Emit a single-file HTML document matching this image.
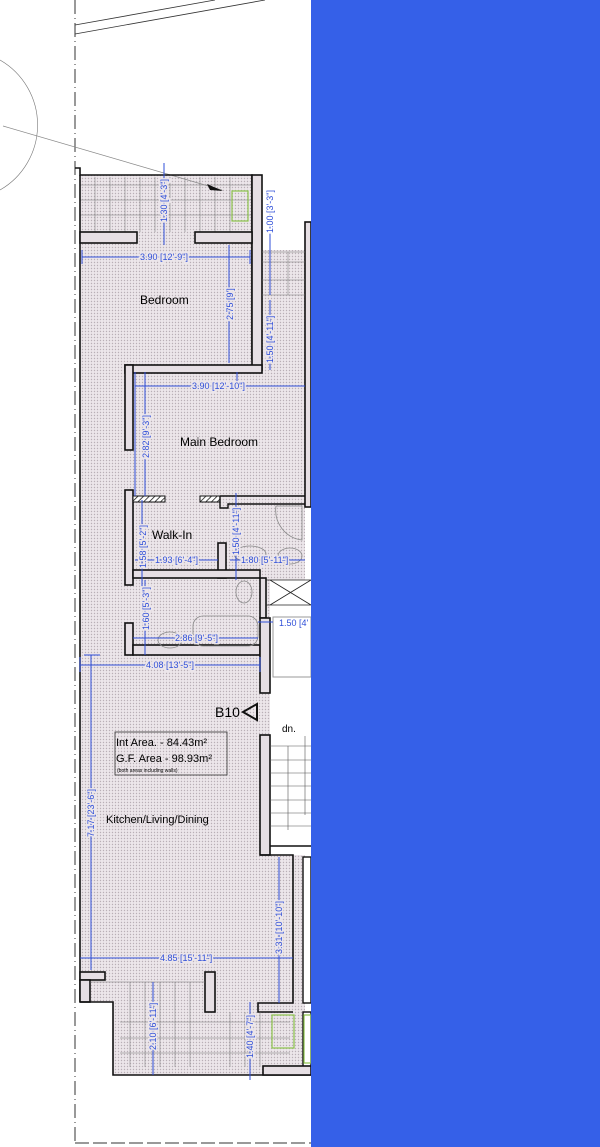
<!DOCTYPE html>
<html><head><meta charset="utf-8"><style>
html,body{margin:0;padding:0;background:#fff;width:600px;height:1147px;overflow:hidden}
svg{display:block}
text{font-family:"Liberation Sans",sans-serif}
.d{fill:#2f4fd8;font-size:9px}
.dl{stroke:#2f4fd8;stroke-width:1;fill:none}
.w{fill:#fff;stroke:#111;stroke-width:1.6}
.wf{fill:#e6dfe4;stroke:#111;stroke-width:1.6}
.g{stroke:#777;stroke-width:.6;fill:none}
</style></head><body>
<svg width="600" height="1147" viewBox="0 0 600 1147" xmlns="http://www.w3.org/2000/svg">
<defs>
<pattern id="dots" width="3" height="3" patternUnits="userSpaceOnUse">
<rect width="3" height="3" fill="#ece6ea"/><circle cx="1.5" cy="1.5" r=".7" fill="#b9afb6"/>
</pattern>
<pattern id="hatch" width="4" height="4" patternUnits="userSpaceOnUse" patternTransform="rotate(45)">
<rect width="4" height="4" fill="#fff"/><line x1="0" y1="0" x2="0" y2="4" stroke="#111" stroke-width="1.5"/>
</pattern>
</defs>
<rect width="600" height="1147" fill="#fff"/>
<line x1="75" y1="25" x2="215" y2="0" stroke="#333" stroke-width=".8"/>
<line x1="75" y1="34" x2="265" y2="0" stroke="#333" stroke-width=".8"/>
<path d="M0 60 A75 75 0 0 1 0 190" class="g" stroke="#999"/>
<line x1="75" y1="0" x2="75" y2="1143" stroke="#333" stroke-width="1" stroke-dasharray="14,4,1,4"/>
<line x1="75" y1="1143" x2="311" y2="1143" stroke="#333" stroke-width="1" stroke-dasharray="14,4"/>
<path d="M80 175 H262 V250 H305 V1075 H113 V1002 H80 Z" fill="url(#dots)"/>
<rect x="268" y="735" width="43" height="120" fill="#fff"/>
<rect x="270" y="580" width="41" height="155" fill="#fff"/>
<g stroke="#777" stroke-width=".5">
<line x1="80" y1="185" x2="252" y2="185"/><line x1="80" y1="200" x2="252" y2="200"/><line x1="80" y1="215" x2="252" y2="215"/>
<line x1="95" y1="177" x2="95" y2="232"/><line x1="110" y1="177" x2="110" y2="232"/><line x1="125" y1="177" x2="125" y2="232"/><line x1="140" y1="177" x2="140" y2="232"/><line x1="155" y1="177" x2="155" y2="232"/><line x1="170" y1="177" x2="170" y2="232"/><line x1="185" y1="177" x2="185" y2="232"/><line x1="200" y1="177" x2="200" y2="232"/><line x1="215" y1="177" x2="215" y2="232"/><line x1="230" y1="177" x2="230" y2="232"/>
</g>
<rect x="232" y="191" width="16" height="30" fill="none" stroke="#8bc34a" stroke-width="1.2"/>
<line x1="3" y1="126" x2="222" y2="190" stroke="#888" stroke-width=".7"/>
<polygon points="207,184 223,191 210,190" fill="#111"/>
<path d="M75 168 H80 V175 H252 V360" fill="none" stroke="#111" stroke-width="1.6"/>
<path d="M80 175 V1002" stroke="#111" stroke-width="1.6"/>
<rect x="252" y="175" width="10" height="195" class="wf"/>
<rect x="80" y="232" width="57" height="11" class="wf"/>
<rect x="195" y="232" width="57" height="11" class="wf"/>
<rect x="305" y="222" width="6" height="285" class="wf"/>
<g stroke="#777" stroke-width=".5"><line x1="262" y1="252" x2="305" y2="252"/><line x1="262" y1="262" x2="305" y2="262"/><line x1="262" y1="280" x2="305" y2="280"/><line x1="262" y1="295" x2="305" y2="295"/><line x1="288" y1="252" x2="288" y2="295"/></g>
<rect x="125" y="365" width="137" height="8" class="wf"/>
<rect x="125" y="365" width="8" height="85" class="wf"/>
<rect x="125" y="490" width="8" height="95" class="wf"/>
<rect x="133" y="496" width="32" height="6" fill="url(#hatch)" stroke="#111"/>
<rect x="200" y="496" width="20" height="6" fill="url(#hatch)" stroke="#111"/>
<path d="M220 496 H305 M220 496 V508 H228 V504 H305" fill="none" stroke="#111" stroke-width="1.4"/>
<rect x="218" y="543" width="8" height="35" class="wf"/>
<rect x="133" y="570" width="127" height="8" class="wf"/>
<rect x="260" y="578" width="6" height="40" class="wf"/>
<path d="M266 580 H311 M266 605 H311 M270 580 L311 605 M270 605 L311 580" stroke="#222" stroke-width=".8" fill="none"/>
<rect x="125" y="623" width="8" height="32" class="wf"/>
<rect x="133" y="645" width="127" height="10" class="wf"/>
<rect x="260" y="618" width="10" height="75" class="wf"/>
<rect x="273" y="617" width="38" height="60" fill="#fff" stroke="#999" stroke-width="1"/>
<path d="M276 506 H302 V540 A30 30 0 0 1 276 506 Z" fill="none" stroke="#888" stroke-width=".8"/>
<ellipse cx="290" cy="556" rx="12" ry="8" fill="none" stroke="#888" stroke-width=".8"/>
<ellipse cx="250" cy="554" rx="16" ry="8" fill="none" stroke="#888" stroke-width=".8"/>
<ellipse cx="244" cy="592" rx="8" ry="11" fill="none" stroke="#888" stroke-width=".8"/>
<rect x="193" y="616" width="65" height="30" rx="10" fill="none" stroke="#888" stroke-width=".8"/>
<ellipse cx="170" cy="640" rx="12" ry="8" fill="none" stroke="#888" stroke-width=".8"/>
<rect x="260" y="735" width="10" height="120" class="wf"/>
<g stroke="#555" stroke-width=".6">
<line x1="270" y1="746" x2="311" y2="746"/><line x1="270" y1="760" x2="311" y2="760"/><line x1="270" y1="773" x2="311" y2="773"/><line x1="270" y1="786" x2="311" y2="786"/><line x1="270" y1="800" x2="311" y2="800"/><line x1="270" y1="813" x2="311" y2="813"/><line x1="270" y1="826" x2="311" y2="826"/>
<line x1="288" y1="746" x2="288" y2="830"/><line x1="305" y1="736" x2="305" y2="815"/>
</g>
<line x1="270" y1="846" x2="311" y2="846" stroke="#111" stroke-width="1.4"/>
<path d="M260 855 H293 V1003 H258 V1012 H293" fill="none" stroke="#111" stroke-width="1.6"/>
<rect x="303" y="857" width="8" height="146" fill="#fff" stroke="#111" stroke-width="1.4"/>
<rect x="303" y="1012" width="8" height="58" fill="#fff" stroke="#111" stroke-width="1.4"/>
<rect x="80" y="972" width="25" height="8" class="wf"/>
<rect x="80" y="980" width="10" height="22" class="wf"/>
<rect x="205" y="972" width="10" height="40" class="wf"/>
<g stroke="#777" stroke-width=".5">
<line x1="90" y1="982" x2="205" y2="982"/><line x1="120" y1="1022" x2="290" y2="1022"/><line x1="120" y1="1038" x2="290" y2="1038"/><line x1="120" y1="1053" x2="290" y2="1053"/>
<line x1="130" y1="982" x2="130" y2="1067"/><line x1="145" y1="982" x2="145" y2="1067"/><line x1="160" y1="982" x2="160" y2="1067"/><line x1="175" y1="982" x2="175" y2="1067"/><line x1="190" y1="982" x2="190" y2="1067"/><line x1="230" y1="1012" x2="230" y2="1067"/><line x1="245" y1="1012" x2="245" y2="1067"/><line x1="260" y1="1012" x2="260" y2="1067"/>
</g>
<path d="M80 1002 H113 V1075 H311" fill="none" stroke="#111" stroke-width="1.6"/>
<rect x="263" y="1066" width="48" height="9" class="wf"/>
<rect x="272" y="1015" width="22" height="33" fill="none" stroke="#8bc34a" stroke-width="1.2"/>
<rect x="304" y="1015" width="7" height="48" fill="none" stroke="#8bc34a" stroke-width="1.2"/>
<text x="140" y="304" font-size="12">Bedroom</text>
<text x="180" y="446" font-size="12">Main Bedroom</text>
<text x="152" y="539" font-size="12">Walk-In</text>
<text x="215" y="717" font-size="14">B10</text>
<polygon points="243,712 257,704 257,720" fill="none" stroke="#111" stroke-width="2"/>
<text x="282" y="732" font-size="10">dn.</text>
<rect x="115" y="732" width="112" height="43" fill="none" stroke="#333" stroke-width=".8"/>
<text x="116" y="746" font-size="11">Int Area. - 84.43m²</text>
<text x="116" y="762" font-size="11">G.F. Area - 98.93m²</text>
<text x="117" y="772" font-size="5">(both areas including walls)</text>
<text x="106" y="823" font-size="11">Kitchen/Living/Dining</text>
<g class="dl">
<line x1="82" y1="257" x2="250" y2="257"/><line x1="82" y1="250" x2="82" y2="264"/><line x1="250" y1="250" x2="250" y2="264"/>
<line x1="229" y1="245" x2="229" y2="363"/>
<line x1="164" y1="163" x2="164" y2="245"/>
<line x1="270" y1="205" x2="270" y2="295"/><line x1="270" y1="300" x2="270" y2="370"/>
<line x1="135" y1="386" x2="305" y2="386"/><line x1="135" y1="372" x2="135" y2="496"/><line x1="145" y1="372" x2="145" y2="496"/>
<line x1="237" y1="372" x2="237" y2="386"/>
<line x1="135" y1="560" x2="218" y2="560"/><line x1="142" y1="500" x2="142" y2="590"/>
<line x1="236" y1="493" x2="236" y2="580"/><line x1="230" y1="560" x2="305" y2="560"/>
<line x1="145" y1="580" x2="145" y2="655"/><line x1="133" y1="638" x2="258" y2="638"/>
<line x1="258" y1="622" x2="273" y2="622"/>
<line x1="80" y1="665" x2="260" y2="665"/><line x1="80" y1="657" x2="80" y2="672"/><line x1="260" y1="657" x2="260" y2="672"/>
<line x1="91" y1="655" x2="91" y2="970"/><line x1="84" y1="655" x2="100" y2="655"/>
<line x1="80" y1="958" x2="293" y2="958"/>
<line x1="279" y1="857" x2="279" y2="1003"/>
<line x1="153" y1="982" x2="153" y2="1075"/>
<line x1="250" y1="1002" x2="250" y2="1080"/>
</g>
<g class="d">
<text x="140" y="260" stroke="#ece6ea" stroke-width="3" style="paint-order:stroke">3.90 [12'-9"]</text>
<text x="192" y="389" stroke="#ece6ea" stroke-width="3" style="paint-order:stroke">3.90 [12'-10"]</text>
<text x="155" y="563" stroke="#ece6ea" stroke-width="3" style="paint-order:stroke">1.93 [6'-4"]</text>
<text x="241" y="563" stroke="#ece6ea" stroke-width="3" style="paint-order:stroke">1.80 [5'-11"]</text>
<text x="175" y="641" stroke="#ece6ea" stroke-width="3" style="paint-order:stroke">2.86 [9'-5"]</text>
<text x="279" y="626">1.50 [4'</text>
<text x="146" y="668" stroke="#ece6ea" stroke-width="3" style="paint-order:stroke">4.08 [13'-5"]</text>
<text x="160" y="961" stroke="#ece6ea" stroke-width="3" style="paint-order:stroke">4.85 [15'-11"]</text>
<g stroke="#ece6ea" stroke-width="3" style="paint-order:stroke">
<text transform="translate(167,222) rotate(-90)">1.30 [4'-3"]</text>
<text transform="translate(233,320) rotate(-90)">2.75 [9']</text>
<text transform="translate(273,233) rotate(-90)" stroke="#fff">1.00 [3'-3"]</text>
<text transform="translate(273,363) rotate(-90)">1.50 [4'-11"]</text>
<text transform="translate(149,458) rotate(-90)">2.82 [9'-3"]</text>
<text transform="translate(146,568) rotate(-90)">1.58 [5'-2"]</text>
<text transform="translate(239,555) rotate(-90)">1.50 [4'-11"]</text>
<text transform="translate(149,630) rotate(-90)">1.60 [5'-3"]</text>
<text transform="translate(94,837) rotate(-90)">7.17 [23'-6"]</text>
<text transform="translate(282,954) rotate(-90)">3.31 [10'-10"]</text>
<text transform="translate(156,1050) rotate(-90)">2.10 [6'-11"]</text>
<text transform="translate(253,1058) rotate(-90)">1.40 [4'-7"]</text>
</g>
</g>
<rect x="311" y="0" width="289" height="1147" fill="#3560e8"/>
</svg>
</body></html>
